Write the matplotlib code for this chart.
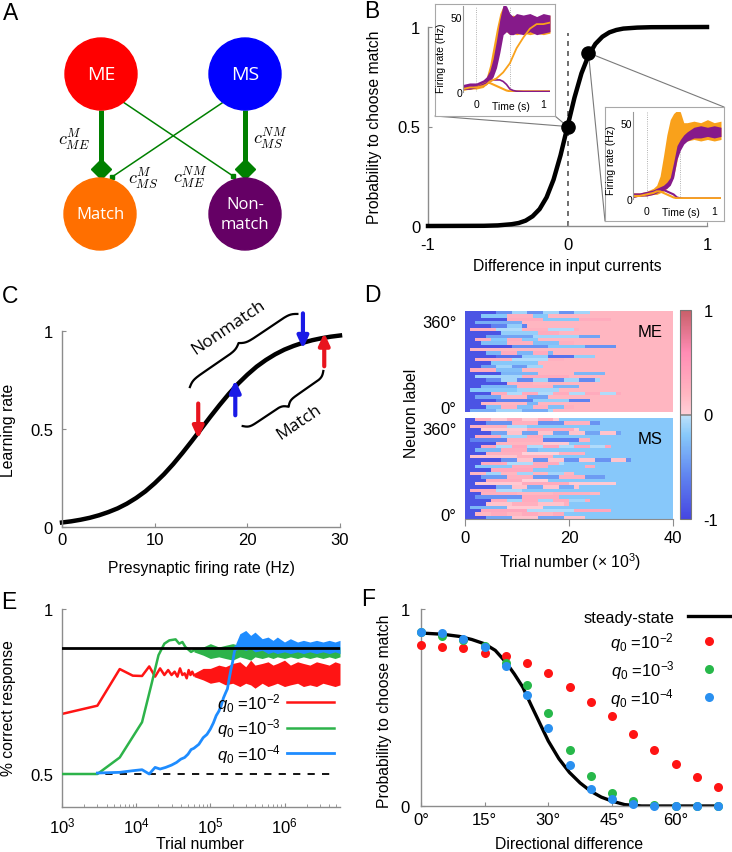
#!/usr/bin/env python3
"""Six-panel model figure: circuit schematic, decision curve, learning rate,
weight evolution heatmap, learning curves and psychometric curves."""
import numpy as np
import matplotlib
matplotlib.use("Agg")
import matplotlib.pyplot as plt
from matplotlib.colors import LinearSegmentedColormap
from matplotlib.patches import Circle, ConnectionPatch

plt.rcParams["font.family"] = ["Liberation Sans", "DejaVu Sans"]
plt.rcParams["mathtext.fontset"] = "custom"
plt.rcParams["mathtext.rm"] = "Liberation Sans"
plt.rcParams["mathtext.it"] = "Liberation Sans:italic"
plt.rcParams["axes.unicode_minus"] = False

W, H = 732, 853
SPINE = "#8c8c8c"
TICK_FS = 12
LABEL_FS = 11.3

# ---------------- data ----------------
# A: circuit
NODE_LABELS = ["ME", "MS", "Match", "Non-\nmatch"]
NODE_COLORS = ["#ff0000", "#0000ff", "#ff6f00", "#650065"]
WEIGHT_LABELS = [r"$c_{ME}^{M}$", r"$c_{MS}^{NM}$", r"$c_{MS}^{M}$", r"$c_{ME}^{NM}$"]

# B: probability to choose match vs input difference
B_X = [-1, -0.6, -0.5, -0.4, -0.35, -0.3, -0.25, -0.2, -0.15, -0.1, -0.05, 0,
       0.05, 0.1, 0.15, 0.2, 0.25, 0.3, 0.35, 0.4, 0.5, 0.6, 1]
B_Y = [0.0, 0.001, 0.003, 0.009, 0.015, 0.027, 0.049, 0.085, 0.144, 0.233, 0.355, 0.5,
       0.645, 0.767, 0.856, 0.915, 0.951, 0.973, 0.985, 0.992, 0.997, 0.999, 1.0]
B_DOT_X = [0.0, 0.15]
B_DOT_Y = [0.5, 0.87]

# B insets: firing rates (Hz) vs time (s)
INSET_T = [-0.2, -0.1, 0.0, 0.1, 0.15, 0.2, 0.25, 0.3, 0.35, 0.4, 0.45, 0.5, 0.55,
           0.6, 0.7, 0.8, 0.9, 1.0, 1.1]
I1_ORANGE_LO = [1, 2, 2, 3, 5, 8, 14, 22, 32, 40, 40, 38, 39, 38, 39, 38, 39, 38, 39]
I1_ORANGE_HI = [4, 5, 5, 7, 10, 18, 30, 42, 52, 57, 53, 50, 51, 50, 50, 51, 50, 50, 51]
I1_PURPLE_LO = [2, 2, 3, 4, 5, 7, 10, 16, 26, 38, 40, 38, 38, 39, 38, 40, 38, 39, 40]
I1_PURPLE_HI = [5, 6, 6, 8, 10, 14, 22, 34, 48, 58, 57, 52, 50, 52, 51, 52, 50, 52, 51]
I1_ORANGE_LATE = [2, 3, 3, 4, 5, 7, 8, 9, 11, 13, 16, 19, 24, 29, 36, 42, 45, 45, 46]
I1_PURPLE_LOSE = [2, 2, 3, 5, 6, 7, 8, 8, 8, 7, 5, 2, 1, 0.5, 0.3, 0.3, 0.3, 0.3, 0.3]
I1_ORANGE_LOSE = [2, 2, 3, 5, 6, 6, 5, 4, 3, 2, 1, 0.5, 0.5, 0.5, 0.5, 0.5, 0.5, 0.5, 0.5]

I2_ORANGE_LO = [1, 2, 2, 3, 3, 4, 5, 7, 10, 15, 25, 38, 37, 38, 39, 38, 39, 38, 39]
I2_ORANGE_HI = [4, 4, 5, 7, 9, 15, 28, 42, 52, 56, 58, 57, 50, 50, 51, 50, 52, 50, 51]
I2_PURPLE_LO = [1, 2, 2, 3, 4, 5, 6, 7, 9, 14, 26, 32, 36, 38, 40, 40, 41, 40, 41]
I2_PURPLE_HI = [4, 4, 5, 6, 7, 8, 9, 11, 14, 24, 35, 39, 42, 44, 47, 48, 47, 48, 47]
I2_PURPLE_LOSE = [2, 2, 3, 4, 5, 6, 6, 5, 4, 3, 1, 0.5, 0.3, 0.3, 0.3, 0.3, 0.3, 0.3, 0.3]
I2_ORANGE_LOSE = [2, 2, 3, 4, 5, 5, 4, 3, 2, 1, 0.5, 0.5, 0.5, 0.5, 0.5, 0.5, 0.5, 0.5, 0.5]

# C: learning rate vs presynaptic rate
C_X = list(range(31))
C_Y = [0.023, 0.029, 0.037, 0.047, 0.060, 0.076, 0.095, 0.119, 0.148, 0.182, 0.223,
       0.269, 0.321, 0.378, 0.438, 0.5, 0.562, 0.622, 0.679, 0.731, 0.777, 0.818,
       0.852, 0.881, 0.905, 0.924, 0.940, 0.953, 0.963, 0.971, 0.977]
C_ARROW_X = [14.7, 18.7, 26.0, 28.3]
C_ARROW_FROM = [0.63, 0.57, 1.09, 0.82]
C_ARROW_TO = [0.45, 0.75, 0.91, 0.99]
C_ARROW_COLORS = ["#e8141e", "#1a1ae6", "#1a1ae6", "#e8141e"]

# D: weights, one row per neuron; segment ends in thousands of trials
ME_DARK_END = [6, 3, 8, 2, 5, 1, 7, 4, 2, 3, 9, 1, 4, 6, 2, 5, 3, 1, 7, 2, 4, 8, 3, 1, 5, 2, 6, 3, 4, 1]
ME_MID_A = [-0.5, -0.2, 0.3, -0.35, -0.6, 0.25, -0.15, -0.4, 0.3, -0.25, -0.5, 0.2, -0.3, -0.7, 0.25,
            -0.2, -0.45, 0.3, -0.3, -0.1, -0.55, 0.25, -0.3, -0.2, 0.3, -0.4, -0.6, 0.2, -0.25, -0.35]
ME_MID_B = [-0.1, 0.25, -0.2, 0.2, -0.15, -0.05, 0.3, -0.1, -0.2, 0.25, -0.2, -0.1, 0.3, -0.15, -0.05,
            0.2, -0.1, -0.25, 0.2, 0.3, -0.1, -0.2, 0.25, -0.1, -0.05, 0.2, -0.15, -0.3, 0.25, -0.1]
ME_CONV = [24, 16, 28, 20, 12, 22, 18, 26, 14, 21, 29, 10, 17, 25, 19, 23, 15, 11, 27, 20, 26, 13, 22,
           18, 30, 16, 24, 14, 21, 17]
MS_DARK_END = [2, 4, 1, 3, 5, 2, 1, 6, 3, 2, 4, 1, 7, 3, 2, 5, 1, 3, 4, 2, 6, 1, 3, 2, 5, 4, 1, 3, 2, 4]
MS_MID_A = [0.3, -0.5, 0.25, 0.05, -0.4, 0.3, -0.6, 0.2, 0.35, -0.3, 0.25, 0.1, -0.5, 0.3, -0.2,
            0.35, 0.2, -0.45, 0.3, 0.05, -0.35, 0.3, 0.25, -0.5, 0.3, 0.1, -0.3, 0.35, 0.2, -0.4]
MS_MID_B = [0.05, 0.25, -0.05, 0.3, 0.1, -0.1, 0.25, 0.05, -0.05, 0.3, 0.0, 0.25, 0.1, -0.05, 0.3,
            0.05, -0.1, 0.25, 0.0, 0.3, 0.1, -0.05, 0.2, 0.3, -0.1, 0.25, 0.05, -0.05, 0.3, 0.1]
MS_CONV = [18, 26, 12, 22, 30, 15, 24, 20, 28, 14, 23, 17, 32, 19, 25, 13, 21, 27, 16, 29, 22, 11,
           26, 18, 24, 20, 15, 28, 19, 23]
D_DARK = -0.9
ME_FINAL = 0.2
MS_FINAL = -0.2

# E: learning curves
Q_LABELS = [r"$q_{\mathit{0}}$ =10$^{-2}$", r"$q_{\mathit{0}}$ =10$^{-3}$",
            r"$q_{\mathit{0}}$ =10$^{-4}$"]
E_STEADY = 0.881
E_RED_X = [1e3, 3e3, 6e3, 9e3, 1.2e4, 1.5e4, 1.8e4, 2.1e4, 2.4e4, 2.7e4, 3.0e4, 3.3e4, 3.6e4,
           3.9e4, 4.2e4, 4.5e4, 4.8e4, 5.1e4, 5.4e4, 5.7e4, 6e4]
E_RED_Y = [0.682, 0.707, 0.818, 0.798, 0.797, 0.826, 0.795, 0.82, 0.80, 0.815, 0.80, 0.81, 0.795,
           0.82, 0.80, 0.805, 0.79, 0.815, 0.80, 0.81, 0.80]
E_GREEN_X = [1e3, 3e3, 6e3, 1.2e4, 1.6e4, 2.0e4, 2.4e4, 2.8e4, 3.4e4, 3.8e4, 4.2e4, 4.6e4, 5e4,
             5.5e4, 6e4]
E_GREEN_Y = [0.5, 0.5, 0.55, 0.657, 0.77, 0.86, 0.895, 0.905, 0.908, 0.895, 0.9, 0.885, 0.878,
             0.87, 0.875]
E_BLUE_X = [3e3, 6e3, 9e3, 1.2e4, 1.5e4, 1.8e4, 2.1e4, 2.5e4, 3e4, 3.5e4, 4e4, 4.5e4, 5e4, 5.5e4,
            6e4, 7e4, 8e4, 9e4, 1e5, 1.1e5, 1.2e5, 1.3e5, 1.4e5, 1.5e5, 1.6e5, 1.7e5, 1.8e5,
            1.9e5, 2e5, 2.1e5, 2.2e5]
E_BLUE_Y = [0.503, 0.505, 0.51, 0.513, 0.50, 0.52, 0.515, 0.52, 0.527, 0.535, 0.545, 0.55, 0.56,
            0.574, 0.578, 0.59, 0.61, 0.62, 0.636, 0.655, 0.677, 0.69, 0.707, 0.73, 0.745, 0.758,
            0.79, 0.818, 0.84, 0.868, 0.885]
E_BAND_X = [6e4, 8e4, 1e5, 1.3e5, 1.6e5, 2e5, 2.5e5, 3e5, 3.5e5, 4e5, 5e5, 6e5, 7e5, 8e5, 1e6,
            1.2e6, 1.5e6, 1.8e6, 2.2e6, 2.7e6, 3.3e6, 4e6, 4.8e6, 5.6e6]
E_RED_LO = [0.795, 0.785, 0.775, 0.78, 0.77, 0.775, 0.765, 0.775, 0.77, 0.76, 0.775, 0.765, 0.77,
            0.775, 0.765, 0.77, 0.775, 0.765, 0.77, 0.765, 0.775, 0.77, 0.765, 0.77]
E_RED_HI = [0.805, 0.82, 0.82, 0.83, 0.825, 0.835, 0.84, 0.825, 0.845, 0.83, 0.835, 0.84, 0.83,
            0.835, 0.845, 0.83, 0.84, 0.835, 0.83, 0.84, 0.835, 0.83, 0.84, 0.835]
E_GREEN_LO = [0.87, 0.86, 0.85, 0.855, 0.85, 0.845, 0.855, 0.85, 0.845, 0.855, 0.85, 0.855, 0.85,
              0.855, 0.85, 0.855, 0.85, 0.855, 0.85, 0.855, 0.85, 0.855, 0.85, 0.855]
E_GREEN_HI = [0.88, 0.885, 0.895, 0.885, 0.89, 0.895, 0.89, 0.885, 0.895, 0.885, 0.89, 0.895,
              0.885, 0.89, 0.895, 0.885, 0.89, 0.885, 0.895, 0.885, 0.89, 0.885, 0.89, 0.885]
E_BLUE_BAND_X = [2.2e5, 2.5e5, 3e5, 3.5e5, 4e5, 5e5, 6e5, 7e5, 8e5, 1e6, 1.2e6, 1.5e6, 1.8e6,
                 2.2e6, 2.7e6, 3.3e6, 4e6, 4.8e6, 5.6e6]
E_BLUE_LO = [0.875, 0.88, 0.875, 0.88, 0.87, 0.875, 0.865, 0.87, 0.865, 0.87, 0.865, 0.87, 0.865,
             0.87, 0.865, 0.87, 0.865, 0.87, 0.865]
E_BLUE_HI = [0.895, 0.925, 0.935, 0.92, 0.93, 0.91, 0.915, 0.905, 0.915, 0.9, 0.91, 0.9, 0.905,
             0.9, 0.905, 0.9, 0.905, 0.9, 0.905]

# F: probability to choose match vs directional difference
F_X = [0, 5, 10, 15, 20, 25, 30, 35, 40, 45, 50, 55, 60, 65, 70]
F_RED = [0.818, 0.806, 0.80, 0.779, 0.76, 0.728, 0.674, 0.603, 0.53, 0.456, 0.363, 0.282, 0.215,
         0.147, 0.096]
F_GREEN = [0.882, 0.861, 0.845, 0.814, 0.725, 0.615, 0.473, 0.285, 0.154, 0.068, 0.025, 0.003,
           0.0, 0.0, 0.0]
F_BLUE = [0.885, 0.878, 0.848, 0.807, 0.713, 0.564, 0.395, 0.206, 0.088, 0.037, 0.01, 0.0, 0.0,
          0.0, 0.0]
F_CURVE_X = [0, 5, 9, 12, 15, 17.5, 20, 22, 24, 26, 28, 30, 32.5, 35, 37.5, 40, 42.5, 45, 48,
             52, 60, 70]
F_CURVE_Y = [0.878, 0.872, 0.861, 0.845, 0.823, 0.79, 0.73, 0.67, 0.603, 0.51, 0.42, 0.33, 0.24,
             0.17, 0.117, 0.075, 0.045, 0.025, 0.007, 0.0, 0.0, 0.0]

RED, GREEN, BLUE = "#ff1414", "#2db34a", "#1e8cff"
ORANGE_I, PURPLE_I = "#f9a11b", "#861a8a"


# ---------------- helpers ----------------
def rect(l, t, r, b):
    return [l / W, 1 - b / H, (r - l) / W, (b - t) / H]


def fpt(x, y):
    return (x / W, 1 - y / H)


def style(ax, pad_x=4, pad_y=5):
    for s in ["top", "right"]:
        ax.spines[s].set_visible(False)
    for s in ["left", "bottom"]:
        ax.spines[s].set_color(SPINE)
        ax.spines[s].set_linewidth(1.0)
    ax.tick_params(direction="in", length=3, color=SPINE, labelsize=TICK_FS)
    ax.tick_params(axis="x", pad=pad_x)
    ax.tick_params(axis="y", pad=pad_y)


def set_labels(ax, xlabel, xpos, ylabel, ypos, fs=LABEL_FS):
    if xlabel:
        ax.set_xlabel(xlabel, fontsize=fs, va="center")
        ax.xaxis.set_label_coords(*fpt(*xpos), transform=fig.transFigure)
    if ylabel:
        ax.set_ylabel(ylabel, fontsize=fs, va="center")
        ax.yaxis.set_label_coords(*fpt(*ypos), transform=fig.transFigure)


def brace(ax, p1, p2, height_px, side, beta=40):
    d1 = ax.transData.transform(p1)
    d2 = ax.transData.transform(p2)
    v = d2 - d1
    L = np.hypot(*v)
    u = v / L
    n = np.array([-u[1], u[0]]) * side
    s = np.linspace(0, 1, 201)
    half = s[:101]
    yh = 1 / (1 + np.exp(-beta * (half - half[0]))) + 1 / (1 + np.exp(-beta * (half - half[-1])))
    y = np.concatenate([yh, yh[-2::-1]])
    y = (y - y.min()) / (y.max() - y.min()) * height_px
    pts = d1 + np.outer(s * L, u) + np.outer(y, n)
    data = ax.transData.inverted().transform(pts)
    ax.plot(data[:, 0], data[:, 1], color="k", lw=1.6, clip_on=False)


fig = plt.figure(figsize=(W / 100, H / 100), dpi=100)

# ---------------- A ----------------
axA = fig.add_axes(rect(0, 0, 360, 280))
axA.set_xlim(0, 360)
axA.set_ylim(280, 0)
axA.axis("off")
NODE_XY = [(101, 75), (245, 75), (100, 215), (245, 215)]
NODE_FS = [14, 14, 12, 12]
GREEN_A = "#008000"
axA.plot([101, 101], [111, 163], color=GREEN_A, lw=3.6, solid_capstyle="butt", zorder=1)
axA.plot([245, 245], [111, 163], color=GREEN_A, lw=3.6, solid_capstyle="butt", zorder=1)
axA.plot([101, 245], [170, 170], "D", ms=10, color=GREEN_A, ls="none", zorder=2)
axA.plot([123, 233], [103, 177], color=GREEN_A, lw=1.1, zorder=1)
axA.plot([222, 112], [104, 178], color=GREEN_A, lw=1.1, zorder=1)
axA.plot([233, 112], [177, 178], "s", ms=3.5, color=GREEN_A, ls="none", zorder=2)
for (x, y), lab, c, fs in zip(NODE_XY, NODE_LABELS, NODE_COLORS, NODE_FS):
    axA.add_patch(Circle((x, y), 36, color=c, zorder=3))
    axA.text(x, y, lab, color="white", ha="center", va="center", fontsize=fs,
             family="Open Sans", linespacing=1.35, zorder=4)
for (x, y), lab in zip([(74, 140), (270, 139), (143, 179), (190, 178)], WEIGHT_LABELS):
    axA.text(x, y, lab, ha="center", va="center", fontsize=13, math_fontfamily="cm")

# ---------------- B ----------------
axB = fig.add_axes(rect(428, 28, 707, 227))
style(axB, pad_x=8, pad_y=5.5)
axB.set_xlim(-1, 1)
axB.set_ylim(0, 1)
axB.plot([0, 0], [0, 0.97], color="#555555", lw=1.2, dashes=(3, 3), zorder=1)
axB.plot(B_X, B_Y, color="k", lw=3.2, clip_on=False, zorder=3)
axB.plot(B_DOT_X, B_DOT_Y, "o", color="k", ms=9.5, zorder=5, clip_on=False)
axB.set_xticks([-1, 0, 1], ["-1", "0", "1"])
axB.set_yticks([0, 0.5, 1], ["0", "0.5", "1"])
set_labels(axB, "Difference in input currents", (567, 266),
           "Probability to choose match", (375, 127))


def make_inset(box_px, ax_px, ylab_px, xlab_px):
    box = fig.add_axes(rect(*box_px))
    box.set_xticks([])
    box.set_yticks([])
    for sp in box.spines.values():
        sp.set_color("#a8a8a8")
        sp.set_linewidth(0.8)
    ax = fig.add_axes(rect(*ax_px))
    ax.patch.set_alpha(0)
    for s in ["top", "right", "bottom"]:
        ax.spines[s].set_visible(False)
    ax.spines["left"].set_color("#999999")
    ax.spines["left"].set_linewidth(0.8)
    ax.set_xlim(-0.2, 1.1)
    ax.set_ylim(0, 57)
    ax.set_xticks([0, 1], ["0", "1"])
    ax.set_yticks([0, 50], ["0", "50"])
    ax.tick_params(length=0, labelsize=7.5)
    ax.tick_params(axis="y", pad=0.5)
    ax.tick_params(axis="x", pad=5)
    for t in [0, 0.5]:
        ax.axvline(t, color="#999999", lw=0.6, ls=":", zorder=0)
    set_labels(ax, "Time (s)", xlab_px, "Firing rate (Hz)", ylab_px, fs=7.5)
    return box, ax


box1, in1 = make_inset((435, 5, 555, 117), (463, 7, 550, 93), (441, 58), (511, 107))
in1.plot(INSET_T, I1_ORANGE_LOSE, color=ORANGE_I, lw=1.5)
in1.plot(INSET_T, I1_PURPLE_LOSE, color=PURPLE_I, lw=1.2)
in1.fill_between(INSET_T, I1_ORANGE_LO, I1_ORANGE_HI, color=ORANGE_I, lw=0)
in1.plot(INSET_T, I1_ORANGE_LATE, color=ORANGE_I, lw=1.3)
in1.fill_between(INSET_T, I1_PURPLE_LO, I1_PURPLE_HI, color=PURPLE_I, lw=0)

box2, in2 = make_inset((605, 108, 724, 222), (633, 113, 721, 200), (611, 160), (681, 213))
in2.plot(INSET_T, I2_PURPLE_LOSE, color=PURPLE_I, lw=1.5)
in2.plot(INSET_T, I2_ORANGE_LOSE, color=ORANGE_I, lw=1.5)
in2.fill_between(INSET_T, I2_ORANGE_LO, I2_ORANGE_HI, color=ORANGE_I, lw=0)
in2.fill_between(INSET_T, I2_PURPLE_LO, I2_PURPLE_HI, color=PURPLE_I, lw=0)

for box, corner, dot in [(box1, (0, 0), 0), (box1, (1, 0), 0), (box2, (1, 1), 1), (box2, (0, 0), 1)]:
    con = ConnectionPatch(xyA=corner, coordsA=box.transAxes,
                          xyB=(B_DOT_X[dot], B_DOT_Y[dot]), coordsB=axB.transData,
                          color="#7a7a7a", lw=0.8, zorder=2, clip_on=False)
    axB.add_artist(con)

# ---------------- C ----------------
axC = fig.add_axes(rect(62, 332, 340, 528))
style(axC, pad_x=3.5, pad_y=6.5)
axC.set_xlim(0, 30)
axC.set_ylim(0, 1)
axC.plot(C_X, C_Y, color="k", lw=3.2, clip_on=False, zorder=2)
for x, a, b, c in zip(C_ARROW_X, C_ARROW_FROM, C_ARROW_TO, C_ARROW_COLORS):
    axC.annotate("", xy=(x, b), xytext=(x, a), annotation_clip=False, zorder=3,
                 arrowprops=dict(arrowstyle="-|>,head_width=0.32,head_length=0.7",
                                 lw=3.0, color=c, mutation_scale=10, shrinkA=0, shrinkB=0))
axC.set_xticks([0, 10, 20, 30], ["0", "10", "20", "30"])
axC.set_yticks([0, 0.5, 1], ["0", "0.5", "1"])
set_labels(axC, "Presynaptic firing rate (Hz)", (201, 569), "Learning rate", (9, 430))
brace(axC, (13.8, 0.714), (25.4, 1.087), 9, +1)
brace(axC, (19.5, 0.515), (28.2, 0.796), 10, -1)
axC.text(18.0, 1.02, "Nonmatch", rotation=34, ha="center", va="center", fontsize=12.5,
         family="Open Sans", rotation_mode="anchor")
axC.text(25.6, 0.54, "Match", rotation=34, ha="center", va="center", fontsize=12.5,
         family="Open Sans", rotation_mode="anchor")

# ---------------- D ----------------
cmap = LinearSegmentedColormap.from_list("wts", [
    (0.0, (70 / 255, 70 / 255, 225 / 255)),
    (0.2, (95 / 255, 130 / 255, 240 / 255)),
    (0.4, (135 / 255, 200 / 255, 250 / 255)),
    (0.4995, (190 / 255, 226 / 255, 250 / 255)),
    (0.5005, (255 / 255, 208 / 255, 216 / 255)),
    (0.6, (255 / 255, 182 / 255, 193 / 255)),
    (0.8, (255 / 255, 140 / 255, 180 / 255)),
    (1.0, (200 / 255, 95 / 255, 105 / 255)),
])
t_bins = np.arange(0.125, 40, 0.25)


def block_matrix(dark_end, mid_a, mid_b, conv, final):
    # before convergence a row switches between its two transient values,
    # with a switching period that differs from row to row
    rows = []
    for i, (d, a, b, c) in enumerate(zip(dark_end, mid_a, mid_b, conv)):
        period = 3.0 + 2.0 * (i % 4)
        phase = np.floor((t_bins - d) / period) % 2
        transient = np.where(phase == 0, a, b)
        row = np.where(t_bins < d, D_DARK, np.where(t_bins < c, transient, final))
        rows.append(row)
    return np.array(rows)


axME = fig.add_axes(rect(465, 312, 673, 413))
axMS = fig.add_axes(rect(465, 419, 673, 520))
for ax, mat, name in [(axME, block_matrix(ME_DARK_END, ME_MID_A, ME_MID_B, ME_CONV, ME_FINAL), "ME"),
                      (axMS, block_matrix(MS_DARK_END, MS_MID_A, MS_MID_B, MS_CONV, MS_FINAL), "MS")]:
    im = ax.imshow(mat, cmap=cmap, vmin=-1, vmax=1, aspect="auto", extent=[0, 40, -20, 400],
                   interpolation="nearest")
    for s in ax.spines.values():
        s.set_visible(False)
    ax.set_yticks([0, 360], ["0°", "360°"])
    ax.tick_params(axis="y", length=0, labelsize=TICK_FS, pad=6)
    ax.text(35.6, 315, name, ha="center", va="center", fontsize=TICK_FS)
axME.set_xticks([])
axMS.spines["bottom"].set_visible(True)
axMS.spines["bottom"].set_color(SPINE)
axMS.set_xticks([0, 20, 40], ["0", "20", "40"])
axMS.tick_params(axis="x", direction="out", length=5, color=SPINE, labelsize=TICK_FS, pad=3)
set_labels(axMS, r"Trial number (× 10$^3$)", (570, 562), None, None)
set_labels(axME, None, None, "Neuron label", (412, 413))
cax = fig.add_axes(rect(680, 311, 691, 520))
cb = fig.colorbar(im, cax=cax, ticks=[-1, 0, 1])
cb.ax.set_yticklabels(["-1", "0", "1"])
cb.outline.set_edgecolor("#777777")
cb.outline.set_linewidth(0.8)
cax.tick_params(length=0, labelsize=TICK_FS, pad=9)
cax.axhline(0, color="#888888", lw=1.2)

# ---------------- E ----------------
axE = fig.add_axes(rect(62, 610, 340, 808))
style(axE, pad_x=6, pad_y=6.5)
axE.set_xscale("log")
axE.set_xlim(1e3, 5.6e6)
axE.set_ylim(0.4, 1)
axE.tick_params(which="both", direction="in", color=SPINE)
axE.tick_params(which="minor", length=2.5)
axE.plot([1e3, 5e6], [0.5, 0.5], color="k", lw=1.3, dashes=(4, 4), zorder=1)
axE.fill_between(E_BAND_X, E_RED_LO, E_RED_HI, color=RED, lw=0, zorder=2)
axE.plot(E_RED_X, E_RED_Y, color=RED, lw=1.8, label=Q_LABELS[0], zorder=2)
axE.fill_between(E_BAND_X, E_GREEN_LO, E_GREEN_HI, color=GREEN, lw=0, zorder=3)
axE.plot(E_GREEN_X, E_GREEN_Y, color=GREEN, lw=1.8, label=Q_LABELS[1], zorder=3)
axE.fill_between(E_BLUE_BAND_X, E_BLUE_LO, E_BLUE_HI, color=BLUE, lw=0, zorder=4)
axE.plot(E_BLUE_X, E_BLUE_Y, color=BLUE, lw=2.0, label=Q_LABELS[2], zorder=4)
axE.plot([1e3, 5.6e6], [E_STEADY, E_STEADY], color="k", lw=2.0, zorder=5)
axE.set_yticks([0.5, 1], ["0.5", "1"])
set_labels(axE, "Trial number", (200, 845), "% correct response", (9, 708))
axE.legend(loc="upper right", bbox_to_anchor=fpt(334, 692), bbox_transform=fig.transFigure,
           frameon=False, markerfirst=False, handlelength=2.8, handletextpad=0.4,
           labelspacing=0.15, borderpad=0, borderaxespad=0, fontsize=12)

# ---------------- F ----------------
axF = fig.add_axes(rect(421, 610, 718, 807))
style(axF, pad_x=4.5, pad_y=8)
axF.set_xlim(0, 70)
axF.set_ylim(0, 1)
axF.plot(F_CURVE_X, F_CURVE_Y, color="k", lw=2.4, label="steady-state", zorder=2)
for ys, c, lab in zip([F_RED, F_GREEN, F_BLUE], [RED, "#27b84a", "#2a90f0"], Q_LABELS):
    axF.plot(F_X, ys, "o", ms=6.5, color=c, mec="none", ls="none", label=lab,
             clip_on=False, zorder=3)
axF.set_xticks([0, 15, 30, 45, 60], ["0°", "15°", "30°", "45°", "60°"])
axF.set_yticks([0, 1], ["0", "1"])
set_labels(axF, "Directional difference", (569, 845), "Probability to choose match", (385, 711))
axF.legend(loc="upper right", bbox_to_anchor=fpt(731, 611), bbox_transform=fig.transFigure,
           frameon=False, markerfirst=False, handlelength=2.6, handletextpad=0.8,
           labelspacing=0.3, borderpad=0, borderaxespad=0, fontsize=12, numpoints=1)

# ---------------- panel letters ----------------
for letter, (x, y) in zip("ABCDEF", [(11, 14), (372, 11), (10, 297), (372, 296), (9, 603), (368, 600)]):
    fig.text(*fpt(x, y), letter, fontsize=16.5, ha="center", va="center")

fig.savefig("out.png", dpi=100)
